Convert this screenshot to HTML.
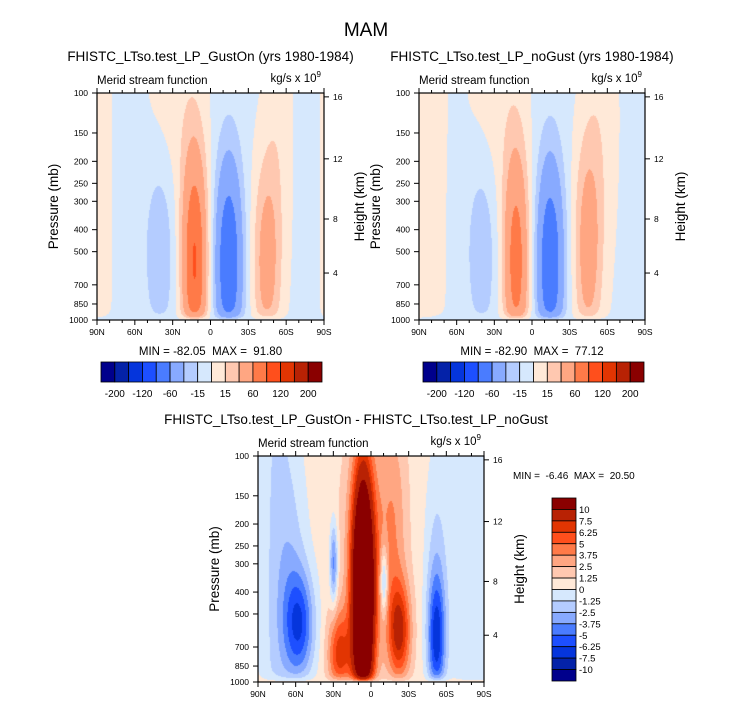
<!DOCTYPE html>
<html><head><meta charset="utf-8">
<style>
html,body{margin:0;padding:0;background:#fff;}
#root{position:relative;width:732px;height:707px;overflow:hidden;font-family:"Liberation Sans",Arial,sans-serif;}
canvas{position:absolute;}
svg{position:absolute;left:0;top:0;}
svg text{white-space:pre;}
</style></head>
<body>
<div id="root">
<canvas id="c1"></canvas>
<canvas id="c2"></canvas>
<canvas id="c3"></canvas>
<svg id="ov" width="732" height="707"></svg>
</div>
<script>
// ---- data ----
const latTicks = [90,80,70,60,50,40,30,20,10,0,-10,-20,-30,-40,-50,-60,-70,-80,-90];
const latMajor = [90,60,30,0,-30,-60,-90];
const latLabels = ["90N","60N","30N","0","30S","60S","90S"];
const presTicks = [100,150,200,250,300,400,500,700,850,1000];
const heightKm = [4,8,12,16];
const heightPres = [621,359,195,104];

const levels1 = [-200,-160,-120,-90,-60,-30,-15,0,15,30,60,90,120,160,200];
const levels1Labels = ["-200","-120","-60","-15","15","60","120","200"];
const levels3 = [-10,-7.5,-6.25,-5,-3.75,-2.5,-1.25,0,1.25,2.5,3.75,5,6.25,7.5,10];
const levels3Labels = ["10","7.5","6.25","5","3.75","2.5","1.25","0","-1.25","-2.5","-3.75","-5","-6.25","-7.5","-10"];
const colors = ["#00008c","#0422a8","#0535dc","#1d4fff","#4a7cff","#88aaff","#b4ccff","#d6e8fd","#ffe9d8","#ffc8b0","#ffa682","#ff7a48","#ff4f1c","#e23502","#b82204","#8a0000"];

// panel 1 (GustOn) blobs
const p1Lat = [12.6,-14.4,-44.5,40,93.6,28,-54,-95.4];
const p1Pres = [562,562,560,479,316,100,126,316];
const p1Amp = [95,-85,44,-26,10,12,12,10];
const p1SigLat = [10,10.8,11,12,16,22,11,9];
const p1SigLog = [0.5,0.46,0.46,0.4,5,0.6,0.7,5];
const p1Base = -4;
// panel 2 (noGust)
const p2Lat = [12.6,-14.4,-44.5,40,93.6,28,-56];
const p2Pres = [562,562,480,479,316,100,126];
const p2Amp = [78,-83,46,-25,10,12,12];
const p2SigLat = [10,10.8,11,12,26,22,13];
const p2SigLog = [0.5,0.46,0.5,0.4,5,0.6,0.7];
const p2Base = -4;
// panel 3 (difference)
const p3Lat = [6.3,3.6,25.2,-22.5,-18,57,63,29.7,-10.3,-52.2,-52.2,75.6,-81];
const p3Pres = [440,251,759,600,200,560,300,300,360,650,316,316,316];
const p3Amp = [20,2.5,6,7,2.5,-6,-1.8,-5,-5,-6.5,-2,-1.8,-1.8];
const p3SigLat = [8.5,20,9,9,10.8,12,13,3,3,7,9,14,18];
const p3SigLog = [0.55,0.5,0.2,0.22,0.5,0.24,0.5,0.18,0.15,0.28,0.5,5,5];
const p3Base = 0.6;

// ---- geometry ----
const P = [
 {x0:97,y0:93,w:227,h:227},
 {x0:419,y0:93,w:226,h:227},
 {x0:258,y0:456,w:226,h:226}
];
function xOf(pn,lat){return P[pn].x0+(90-lat)/180*P[pn].w;}
function yOf(pn,p){return P[pn].y0+Math.log10(p/100)*P[pn].h;}

function rgb(h){return [parseInt(h.substr(1,2),16),parseInt(h.substr(3,2),16),parseInt(h.substr(5,2),16)];}
const crgb = colors.map(rgb);

function drawField(id,pn,lats,pres,amps,sl,sv,base,lev){
  const g=P[pn];const c=document.getElementById(id);
  c.width=g.w;c.height=g.h;c.style.left=g.x0+'px';c.style.top=g.y0+'px';
  const ctx=c.getContext('2d');const img=ctx.createImageData(g.w,g.h);
  for(let j=0;j<g.h;j++){
    const v=(j+0.5)/g.h; const taper=1-Math.exp(-(1-v)/0.02);
    for(let i=0;i<g.w;i++){
      const lat=90-(i+0.5)/g.w*180;
      let f=0;
      for(let k=0;k<amps.length;k++){
        const du=(lat-lats[k])/sl[k];
        const dv=(v-Math.log10(pres[k]/100))/sv[k];
        f+=amps[k]*Math.exp(-du*du-dv*dv);
      }
      f=base+f*taper;
      let idx=0;while(idx<lev.length&&f>=lev[idx])idx++;
      const col=crgb[idx];const o=(j*g.w+i)*4;
      img.data[o]=col[0];img.data[o+1]=col[1];img.data[o+2]=col[2];img.data[o+3]=255;
    }
  }
  ctx.putImageData(img,0,0);
}
drawField('c1',0,p1Lat,p1Pres,p1Amp,p1SigLat,p1SigLog,p1Base,levels1);
drawField('c2',1,p2Lat,p2Pres,p2Amp,p2SigLat,p2SigLog,p2Base,levels1);
drawField('c3',2,p3Lat,p3Pres,p3Amp,p3SigLat,p3SigLog,p3Base,levels3);

// ---- overlay ----
const NS='http://www.w3.org/2000/svg';const ov=document.getElementById('ov');
function el(t,a,txt){const e=document.createElementNS(NS,t);for(const k in a)e.setAttribute(k,a[k]);if(txt!==undefined)e.textContent=txt;ov.appendChild(e);return e;}

let e=el('text',{x:366,y:36,'font-size':19,'text-anchor':'middle',fill:'#000'},'MAM');



const titles=["FHISTC_LTso.test_LP_GustOn (yrs 1980-1984)","FHISTC_LTso.test_LP_noGust (yrs 1980-1984)","FHISTC_LTso.test_LP_GustOn - FHISTC_LTso.test_LP_noGust"];
const titleY=[61,61,424];
const minmax=["MIN = -82.05  MAX =  91.80","MIN = -82.90  MAX =  77.12"];

for(let pn=0;pn<3;pn++){
  const g=P[pn];
  e=el('text',{x:g.x0+g.w/2+(pn==2?-15:0),y:titleY[pn],'font-size':13.5,'text-anchor':'middle'},titles[pn]);
  
  
  e=el('text',{x:g.x0,y:g.y0-9,'font-size':11.5},'Merid stream function');
  
  
  e=el('text',{x:g.x0+g.w-3,y:g.y0-11,'font-size':11.5,'text-anchor':'end'});
  e.innerHTML='kg/s x 10<tspan dy="-5" font-size="8">9</tspan>';
  
  
  e=el('rect',{x:g.x0,y:g.y0,width:g.w,height:g.h,fill:'none',stroke:'#000','stroke-width':1.2});
  
  
  latTicks.forEach(function(lat){
    const x=xOf(pn,lat);const maj=latMajor.indexOf(lat)>=0;const L=maj?5:3;
    e=el('line',{x1:x,x2:x,y1:g.y0+g.h,y2:g.y0+g.h+L,stroke:'#000','stroke-width':1});
    
    
    e=el('line',{x1:x,x2:x,y1:g.y0,y2:g.y0-L,stroke:'#000','stroke-width':1});
    
    
  });
  latMajor.forEach(function(lat,i){
    e=el('text',{x:xOf(pn,lat),y:g.y0+g.h+15,'font-size':8.5,'text-anchor':'middle'},latLabels[i]);
    
    
  });
  presTicks.forEach(function(p){
    const y=yOf(pn,p);
    e=el('line',{x1:g.x0-5,x2:g.x0,y1:y,y2:y,stroke:'#000','stroke-width':1});
    
    
    e=el('text',{x:g.x0-9,y:y+3,'font-size':8.5,'text-anchor':'end'},String(p));
    
    
  });
  heightKm.forEach(function(h,i){
    const y=yOf(pn,heightPres[i]);
    e=el('line',{x1:g.x0+g.w,x2:g.x0+g.w+5,y1:y,y2:y,stroke:'#000','stroke-width':1});
    
    
    e=el('text',{x:g.x0+g.w+9,y:y+3,'font-size':8.5},String(h));
    
    
  });
  const cy=g.y0+g.h/2;
  e=el('text',{x:g.x0-39,y:cy,'font-size':13.5,'text-anchor':'middle',transform:'rotate(-90 '+(g.x0-39)+' '+cy+')'},'Pressure (mb)');
  
  
  e=el('text',{x:g.x0+g.w+40,y:cy,'font-size':13.5,'text-anchor':'middle',transform:'rotate(-90 '+(g.x0+g.w+40)+' '+cy+')'},'Height (km)');
  
  
  if(pn<2){
    e=el('text',{x:g.x0+g.w/2,y:g.y0+g.h+35,'font-size':11.5,'text-anchor':'middle'},minmax[pn]);
    
    
    const bx=g.x0+4,by=362,bw=221,bh=20,n=colors.length;
    colors.forEach(function(c,i){
      e=el('rect',{x:bx+i*bw/n,y:by,width:bw/n,height:bh,fill:c,stroke:'#000','stroke-width':0.8});
      
      
    });
    levels1Labels.forEach(function(t,i){
      e=el('text',{x:bx+(2*i+1)*bw/n,y:by+bh+15,'font-size':10,'text-anchor':'middle'},t);
      
      
    });
  }
}
e=el('text',{x:513,y:479,'font-size':10},'MIN =  -6.46  MAX =  20.50');


(function(){
  const bx=552,by=498,bw=24,bh=183,n=colors.length;
  for(let i=0;i<n;i++){
    e=el('rect',{x:bx,y:by+i*bh/n,width:bw,height:bh/n,fill:colors[n-1-i],stroke:'#000','stroke-width':0.8});
    
    
  }
  levels3Labels.forEach(function(t,i){
    e=el('text',{x:bx+bw+3,y:by+(i+1)*bh/n+3.5,'font-size':9.5},t);
    
    
  });
})();
</script>
</body></html>
